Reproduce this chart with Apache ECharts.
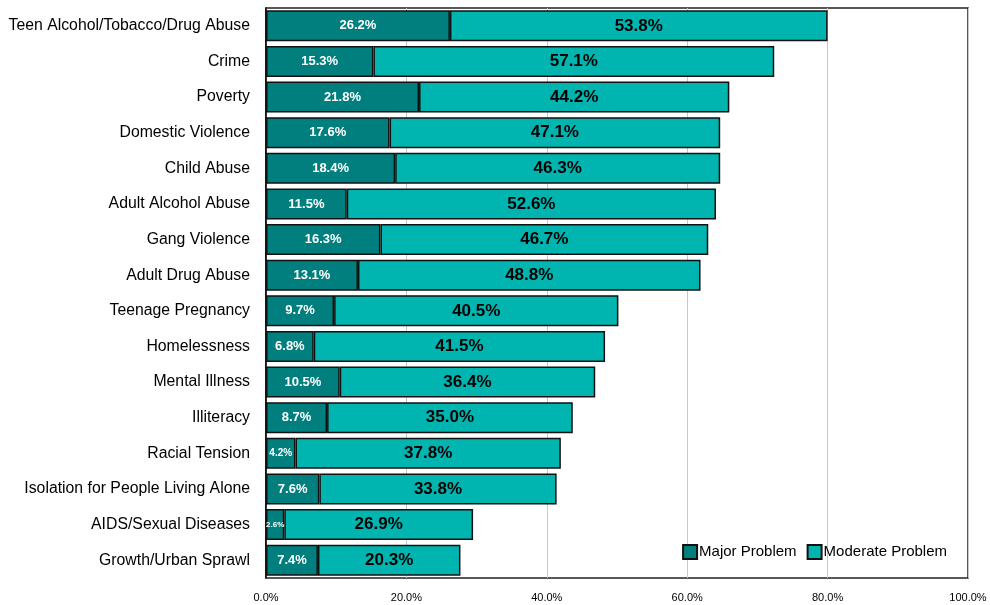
<!DOCTYPE html>
<html>
<head>
<meta charset="utf-8">
<script src="https://cdn.jsdelivr.net/npm/echarts@6/dist/echarts.min.js"></script>
<style>
  html, body { margin: 0; padding: 0; background: #fff; }
  #chart { width: 990px; height: 605px; }
</style>
</head>
<body>
<div id="chart"></div>
<script>
// top-to-bottom order, as in the picture
const categories = [
  "Teen Alcohol/Tobacco/Drug Abuse", "Crime", "Poverty", "Domestic Violence",
  "Child Abuse", "Adult Alcohol Abuse", "Gang Violence", "Adult Drug Abuse",
  "Teenage Pregnancy", "Homelessness", "Mental Illness", "Illiteracy",
  "Racial Tension", "Isolation for People Living Alone", "AIDS/Sexual Diseases",
  "Growth/Urban Sprawl"
];
const major = [26.2, 15.3, 21.8, 17.6, 18.4, 11.5, 16.3, 13.1, 9.7, 6.8, 10.5, 8.7, 4.2, 7.6, 2.6, 7.4];
const moderate = [53.8, 57.1, 44.2, 47.1, 46.3, 52.6, 46.7, 48.8, 40.5, 41.5, 36.4, 35.0, 37.8, 33.8, 26.9, 20.3];
const xTicks = [0, 20, 40, 60, 80, 100];

const SANS = '"Liberation Sans", Arial, sans-serif';

// small segments get smaller labels so they fit
function majorSize(v) { return v < 3 ? 8 : v < 5 ? 10 : 13; }

const chart = echarts.init(document.getElementById("chart"), null, { renderer: "canvas" });
chart.setOption({
  animation: false,
  backgroundColor: "#fff",
  grid: { left: 266, right: 22, top: 8, bottom: 27, show: true, borderColor: "#222", borderWidth: 1.5 },
  legend: {
    right: 38, bottom: 40, itemWidth: 14, itemHeight: 14, itemGap: 10,
    icon: "rect",
    textStyle: { fontFamily: SANS, fontSize: 15, color: "#000", padding: [0, 0, 0, -3] },
    data: ["Major Problem", "Moderate Problem"]
  },
  xAxis: {
    type: "value", min: 0, max: 100, interval: 20,
    axisLine: { show: false }, axisTick: { show: false },
    splitLine: { lineStyle: { color: "#c8c8c8", width: 1 } },
    axisLabel: {
      fontFamily: SANS, fontSize: 11, color: "#000", margin: 14,
      formatter: v => xTicks.includes(v) ? v.toFixed(1) + "%" : ""
    }
  },
  yAxis: {
    type: "category", inverse: true, data: categories,
    axisLine: { show: true, lineStyle: { color: "#000", width: 1.5 } },
    axisTick: { show: false },
    axisLabel: { fontFamily: SANS, fontSize: 15.8, color: "#000", margin: 16 }
  },
  series: [
    {
      name: "Major Problem", type: "bar", stack: "all", barCategoryGap: "13%",
      itemStyle: { color: "#007f7e", borderColor: "#111", borderWidth: 1.5 },
      data: major.map(v => ({
        value: v,
        label: { fontSize: majorSize(v) }
      })),
      label: {
        show: true, position: "inside", color: "#fff", fontWeight: "bold",
        fontFamily: SANS, formatter: p => p.value.toFixed(1) + "%"
      }
    },
    {
      name: "Moderate Problem", type: "bar", stack: "all", barCategoryGap: "13%",
      itemStyle: { color: "#00b4b0", borderColor: "#111", borderWidth: 1.5 },
      data: moderate,
      label: {
        show: true, position: "inside", color: "#000", fontWeight: "bold",
        fontFamily: SANS, fontSize: 17, formatter: p => p.value.toFixed(1) + "%"
      }
    }
  ]
});
</script>
</body>
</html>
